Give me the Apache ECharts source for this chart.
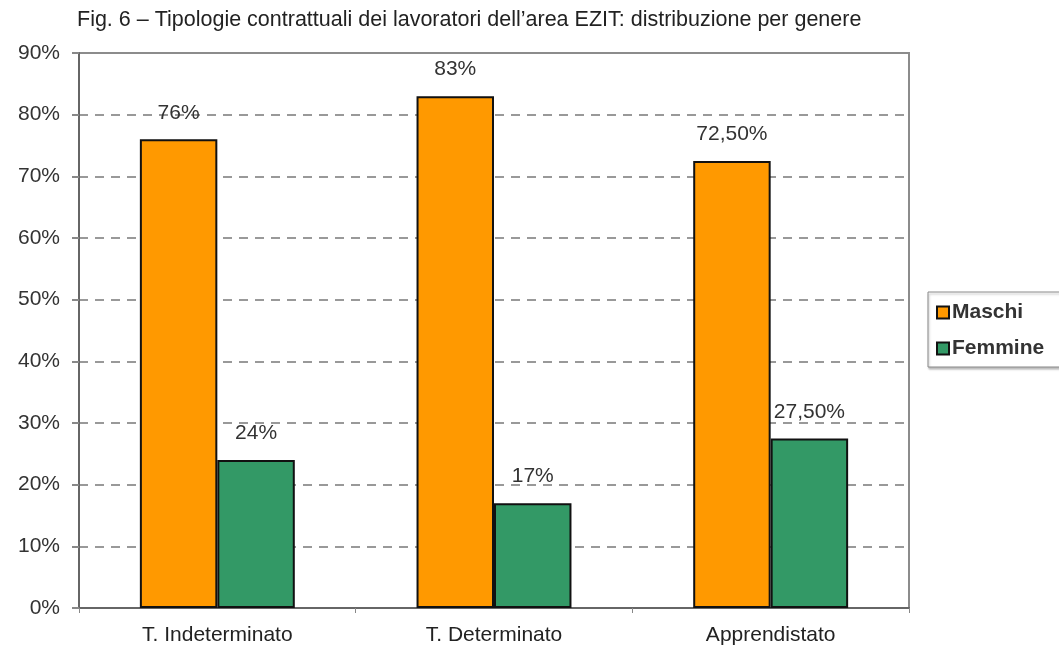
<!DOCTYPE html>
<html>
<head>
<meta charset="utf-8">
<title>Fig. 6</title>
<script src="https://cdn.jsdelivr.net/npm/echarts@6/dist/echarts.min.js"></script>
<style>
  html, body { margin: 0; padding: 0; background: #fff; }
  #chart { width: 1059px; height: 654px; }
</style>
</head>
<body>
<div id="chart"></div>
<script>
// dati
const categories = ['T. Indeterminato', 'T. Determinato', 'Apprendistato']
const maschi = [76, 83, 72.5]
const femmine = [24, 17, 27.5]
const seriesNames = ['Maschi', 'Femmine']

const font = 'Liberation Sans, Arial, sans-serif'

// etichette tipo "76%" o "72,50%"
const fmt = (v) => Number.isInteger(v) ? v + '%' : v.toFixed(2).replace('.', ',') + '%'

const chart = echarts.init(document.getElementById('chart'))

const barLabel = {
  show: true,
  position: 'top',
  distance: 16,
  fontFamily: font,
  fontSize: 21,
  color: '#333',
  formatter: (p) => fmt(p.value)
}

const options = {
  animation: false,
  title: {
    text: 'Fig. 6 – Tipologie contrattuali dei lavoratori dell’area EZIT: distribuzione per genere',
    left: 77,
    top: 9,
    padding: 0,
    textStyle: { fontFamily: font, fontSize: 21.5, fontWeight: 'normal', color: '#222' }
  },
  legend: {
    data: seriesNames,
    orient: 'vertical',
    left: 928,
    top: 292,
    padding: [10, 40, 8, 8],
    itemGap: 15,
    itemWidth: 12,
    itemHeight: 12,
    icon: 'rect',
    borderColor: '#888',
    borderWidth: 1,
    shadowColor: 'rgba(0,0,0,0.25)',
    shadowOffsetX: 1,
    shadowOffsetY: 2,
    shadowBlur: 2,
    backgroundColor: '#fff',
    textStyle: { fontFamily: font, fontSize: 21, fontWeight: 'bold', color: '#333', padding: [0, 0, 0, -2] }
  },
  grid: {
    left: 79,
    right: 150,
    top: 53,
    bottom: 46,
    show: true,
    borderColor: '#8c8c8c',
    borderWidth: 2,
    backgroundColor: 'transparent'
  },
  xAxis: {
    type: 'category',
    data: categories,
    axisLine: { lineStyle: { color: '#666', width: 2 } },
    axisTick: { show: true, length: 5, lineStyle: { color: '#888' } },
    axisLabel: { fontFamily: font, fontSize: 21, color: '#222', margin: 17 }
  },
  yAxis: {
    type: 'value',
    min: 0,
    max: 90,
    interval: 10,
    axisLine: { show: true, lineStyle: { color: '#666', width: 2 } },
    axisTick: { show: true, length: 7, lineStyle: { color: '#888', width: 2 } },
    axisLabel: {
      fontFamily: font,
      fontSize: 21,
      color: '#333',
      margin: 19,
      formatter: '{value}%'
    },
    splitLine: {
      showMaxLine: false,
      lineStyle: { color: '#999', width: 2, type: [9, 7] }
    }
  },
  series: [
    {
      name: seriesNames[0],
      type: 'bar',
      data: maschi,
      barGap: 0,
      barCategoryGap: '44%',
      itemStyle: { color: '#ff9900', borderColor: '#111', borderWidth: 2 },
      label: barLabel
    },
    {
      name: seriesNames[1],
      type: 'bar',
      data: femmine,
      itemStyle: { color: '#339966', borderColor: '#111', borderWidth: 2 },
      label: barLabel
    }
  ]
}

chart.setOption(options)
</script>
</body>
</html>
